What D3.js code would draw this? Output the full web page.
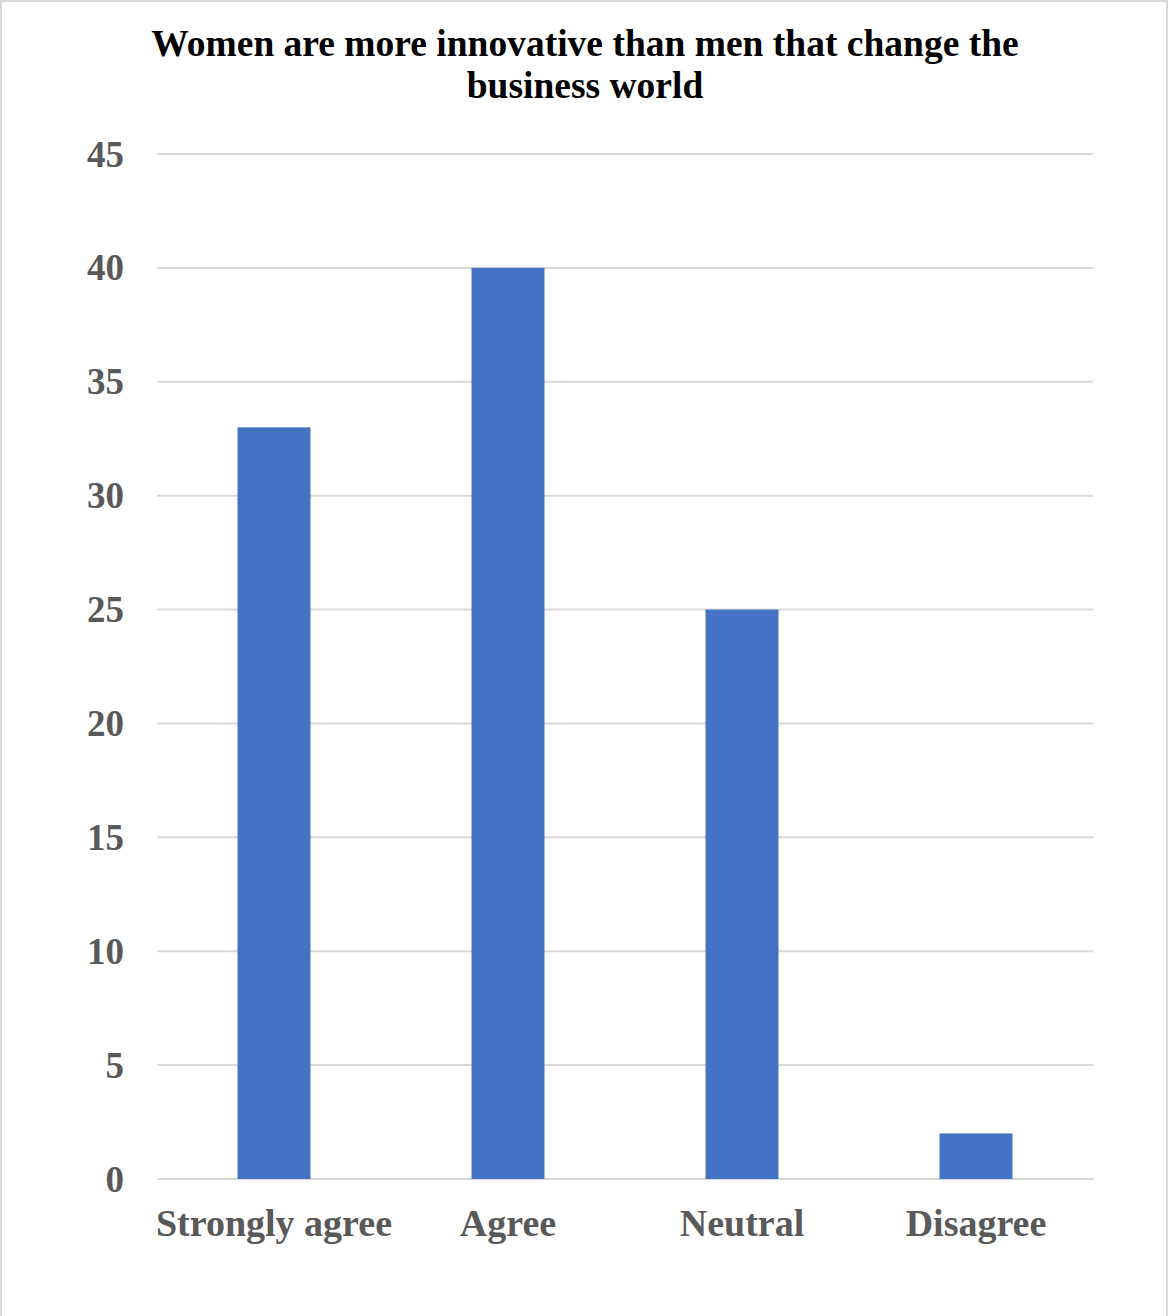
<!DOCTYPE html>
<html><head><meta charset="utf-8">
<script src="https://cdn.jsdelivr.net/npm/d3@7"></script>
<style>html,body{margin:0;padding:0;background:#fff;}</style>
</head><body>
<script>
const categories = ["Strongly agree", "Agree", "Neutral", "Disagree"];
const values = [33, 40, 25, 2];
const yTicks = [0, 5, 10, 15, 20, 25, 30, 35, 40, 45];
const titleLines = ["Women are more innovative than men that change the", "business world"];

(function () {
const W = 1169, H = 1316;
const svg = d3.select("body").append("svg").attr("width", W).attr("height", H).style("display", "block");
svg.append("rect").attr("x", 1).attr("y", 1).attr("width", 1166).attr("height", 1320)
  .attr("fill", "#fff").attr("stroke", "#d9d9d9").attr("stroke-width", 2);

const plotLeft = 157, plotRight = 1093, plotTop = 154, plotBottom = 1179;
const x = d3.scaleBand().domain(categories).range([plotLeft, plotRight]).paddingInner(0.688).paddingOuter(0.344);
const y = d3.scaleLinear().domain([0, 45]).range([plotBottom, plotTop]);

const font = "'Liberation Serif','Times New Roman',serif";

svg.append("g").selectAll("line").data(yTicks).join("line")
  .attr("x1", plotLeft).attr("x2", plotRight)
  .attr("y1", d => y(d)).attr("y2", d => y(d))
  .attr("stroke", "#d9d9d9").attr("stroke-width", 2);

svg.append("g").selectAll("text").data(yTicks).join("text")
  .attr("x", 124).attr("y", d => y(d)).attr("dy", "0.34em")
  .attr("text-anchor", "end").attr("font-family", font).attr("font-weight", "bold")
  .attr("font-size", 37).attr("fill", "#595959").text(d => d);

svg.append("g").selectAll("rect").data(values).join("rect")
  .attr("x", (d, i) => x(categories[i])).attr("width", x.bandwidth())
  .attr("y", d => y(d)).attr("height", d => y(0) - y(d))
  .attr("fill", "#4472c4");

svg.append("g").selectAll("text").data(categories).join("text")
  .attr("x", d => x(d) + x.bandwidth() / 2).attr("y", 1223).attr("dy", "0.35em")
  .attr("text-anchor", "middle").attr("font-family", font).attr("font-weight", "bold")
  .attr("font-size", 38).attr("fill", "#595959").text(d => d);

svg.append("g").selectAll("text").data(titleLines).join("text")
  .attr("x", 585).attr("y", (d, i) => 43 + i * 42).attr("dy", "0.35em")
  .attr("text-anchor", "middle").attr("font-family", font).attr("font-weight", "bold")
  .attr("font-size", 37.5).attr("fill", "#000").text(d => d);
})();
</script>
</body></html>
